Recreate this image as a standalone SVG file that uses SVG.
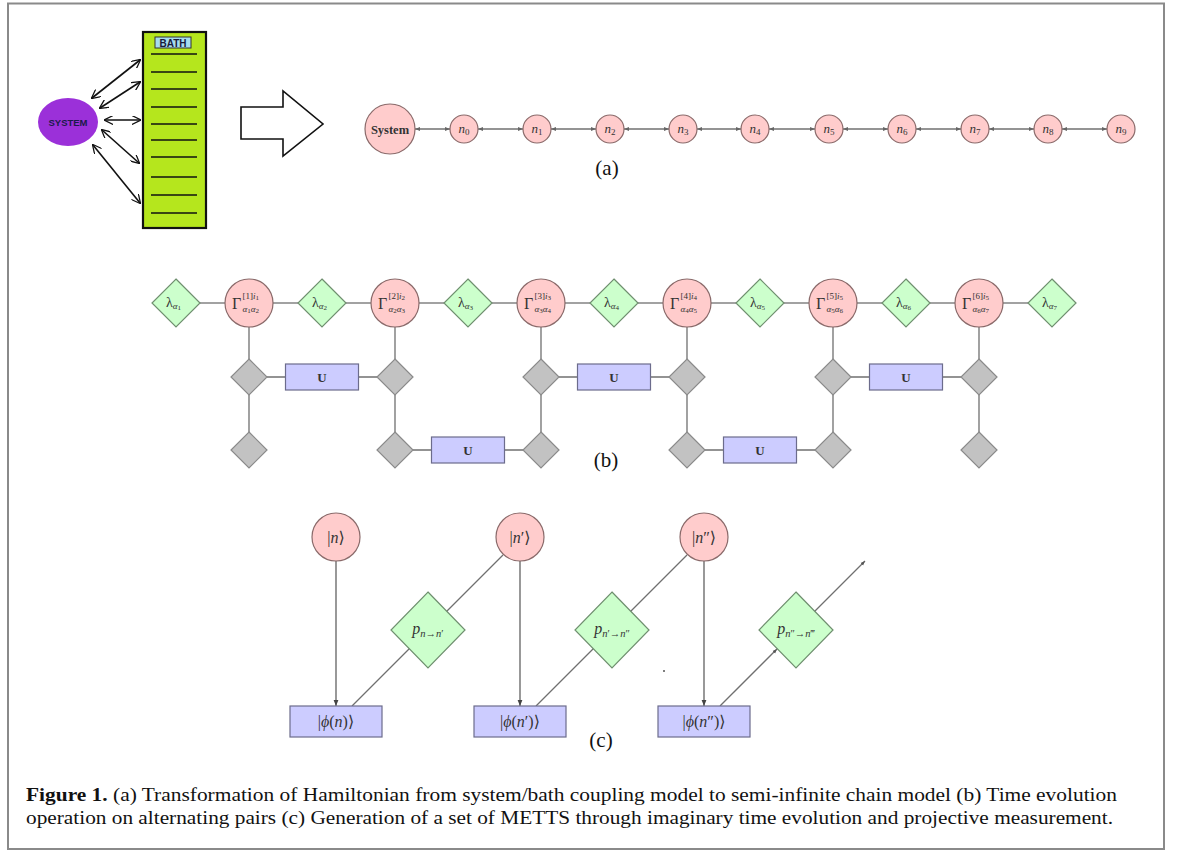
<svg xmlns="http://www.w3.org/2000/svg" width="1181" height="850" viewBox="0 0 1181 850">
<style>
.frame{fill:#fff;stroke:#8a8a8a;stroke-width:2}
.blk{stroke:#111;stroke-width:1.6;fill:none}
.edge{stroke:#707070;stroke-width:1.3;fill:none}
.edgeD{stroke:#444;stroke-width:1.1;fill:none}
.pink{fill:#ffcccc;stroke:#8a6a6a;stroke-width:1.2}
.green{fill:#ccffcc;stroke:#6f8f6f;stroke-width:1.2}
.gray{fill:#c2c2c2;stroke:#8a8a8a;stroke-width:1.2}
.blue{fill:#ccccff;stroke:#6c6c8c;stroke-width:1.2}
.m{font-family:"Liberation Serif","DejaVu Serif",serif;fill:#333}
.i{font-style:italic}
.lbl{font-family:"Liberation Serif",serif;fill:#111;font-size:21px}
.cap{font-family:"Liberation Serif",serif;fill:#111;font-size:18.5px}
</style>
<defs>
<marker id="va" viewBox="0 0 10 10" refX="9" refY="5" markerWidth="9" markerHeight="9" markerUnits="userSpaceOnUse" orient="auto-start-reverse"><path d="M0,0 L10,5 L0,10" fill="none" stroke="#111" stroke-width="1.4"/></marker>
<marker id="sm" viewBox="0 0 10 10" refX="10" refY="5" markerWidth="5" markerHeight="5" markerUnits="userSpaceOnUse" orient="auto-start-reverse"><path d="M0,1 L10,5 L0,9 z" fill="#666"/></marker>
<marker id="ar" viewBox="0 0 10 10" refX="10" refY="5" markerWidth="6" markerHeight="6" markerUnits="userSpaceOnUse" orient="auto"><path d="M0,1 L10,5 L0,9 z" fill="#444"/></marker>
<marker id="ars" viewBox="0 0 10 10" refX="10" refY="5" markerWidth="4.5" markerHeight="4.5" markerUnits="userSpaceOnUse" orient="auto"><path d="M0,1 L10,5 L0,9 z" fill="#555"/></marker>
</defs>
<rect class="frame" x="8" y="3.5" width="1156" height="845.5"/>

<!-- (a) left: system / bath -->
<g id="bath">
<rect x="143" y="32" width="63" height="196" fill="#b5e61d" stroke="#111" stroke-width="2.2"/>
<rect x="155" y="37" width="36" height="11" fill="#a6dcef" stroke="#333" stroke-width="1"/>
<text x="173" y="46.5" text-anchor="middle" font-family="Liberation Sans,sans-serif" font-weight="bold" font-size="10" fill="#1a1a3a">BATH</text>
<g stroke="#111" stroke-width="1.5">
<line x1="151" y1="54" x2="197" y2="54"/><line x1="151" y1="72" x2="197" y2="72"/>
<line x1="151" y1="89" x2="197" y2="89"/><line x1="151" y1="107" x2="197" y2="107"/>
<line x1="151" y1="124" x2="197" y2="124"/><line x1="151" y1="140" x2="197" y2="140"/>
<line x1="151" y1="157" x2="197" y2="157"/><line x1="151" y1="177" x2="197" y2="177"/>
<line x1="151" y1="195" x2="197" y2="195"/><line x1="151" y1="213" x2="197" y2="213"/>
</g>
</g>
<g id="system">
<ellipse cx="68" cy="122" rx="30" ry="24" fill="#9b30d9"/>
<text x="68" y="125.5" text-anchor="middle" font-family="Liberation Sans,sans-serif" font-weight="bold" font-size="9.5" fill="#1a1a4a">SYSTEM</text>
</g>
<g id="coupling">
<line class="blk" x1="92" y1="98" x2="140" y2="60" marker-start="url(#va)" marker-end="url(#va)"/>
<line class="blk" x1="100" y1="108" x2="140" y2="82" marker-start="url(#va)" marker-end="url(#va)"/>
<line class="blk" x1="105" y1="120" x2="140" y2="120" marker-start="url(#va)" marker-end="url(#va)"/>
<line class="blk" x1="102" y1="130" x2="139" y2="163" marker-start="url(#va)" marker-end="url(#va)"/>
<line class="blk" x1="93" y1="145" x2="140" y2="203" marker-start="url(#va)" marker-end="url(#va)"/>
</g>
<g id="bigarrow">
<polygon points="241,107 283,107 283,91 323,124 283,156 283,139 241,139" fill="#fff" stroke="#111" stroke-width="1.6"/>
</g>

<!-- (a) chain -->
<g id="chain-edges">
<line class="edge" x1="415" y1="129" x2="450" y2="129" marker-start="url(#sm)" marker-end="url(#sm)"/>
<line class="edge" x1="478" y1="129" x2="523" y2="129" marker-start="url(#sm)" marker-end="url(#sm)"/>
<line class="edge" x1="551" y1="129" x2="596" y2="129" marker-start="url(#sm)" marker-end="url(#sm)"/>
<line class="edge" x1="624" y1="129" x2="669" y2="129" marker-start="url(#sm)" marker-end="url(#sm)"/>
<line class="edge" x1="697" y1="129" x2="741" y2="129" marker-start="url(#sm)" marker-end="url(#sm)"/>
<line class="edge" x1="769" y1="129" x2="815" y2="129" marker-start="url(#sm)" marker-end="url(#sm)"/>
<line class="edge" x1="843" y1="129" x2="888" y2="129" marker-start="url(#sm)" marker-end="url(#sm)"/>
<line class="edge" x1="916" y1="129" x2="961" y2="129" marker-start="url(#sm)" marker-end="url(#sm)"/>
<line class="edge" x1="989" y1="129" x2="1034" y2="129" marker-start="url(#sm)" marker-end="url(#sm)"/>
<line class="edge" x1="1062" y1="129" x2="1107" y2="129" marker-start="url(#sm)" marker-end="url(#sm)"/>
</g>
<g id="chain-System"><circle class="pink" cx="390" cy="129" r="25"/><text class="m" x="390" y="133.5" text-anchor="middle" font-size="12.5" font-weight="bold" fill="#333">System</text></g>
<g id="chain-n0"><circle class="pink" cx="464" cy="129" r="14"/><text class="m" x="464" y="133" text-anchor="middle" font-size="13"><tspan class="i">n</tspan><tspan font-size="9" dy="2">0</tspan></text></g>
<g id="chain-n1"><circle class="pink" cx="537" cy="129" r="14"/><text class="m" x="537" y="133" text-anchor="middle" font-size="13"><tspan class="i">n</tspan><tspan font-size="9" dy="2">1</tspan></text></g>
<g id="chain-n2"><circle class="pink" cx="610" cy="129" r="14"/><text class="m" x="610" y="133" text-anchor="middle" font-size="13"><tspan class="i">n</tspan><tspan font-size="9" dy="2">2</tspan></text></g>
<g id="chain-n3"><circle class="pink" cx="683" cy="129" r="14"/><text class="m" x="683" y="133" text-anchor="middle" font-size="13"><tspan class="i">n</tspan><tspan font-size="9" dy="2">3</tspan></text></g>
<g id="chain-n4"><circle class="pink" cx="755" cy="129" r="14"/><text class="m" x="755" y="133" text-anchor="middle" font-size="13"><tspan class="i">n</tspan><tspan font-size="9" dy="2">4</tspan></text></g>
<g id="chain-n5"><circle class="pink" cx="829" cy="129" r="14"/><text class="m" x="829" y="133" text-anchor="middle" font-size="13"><tspan class="i">n</tspan><tspan font-size="9" dy="2">5</tspan></text></g>
<g id="chain-n6"><circle class="pink" cx="902" cy="129" r="14"/><text class="m" x="902" y="133" text-anchor="middle" font-size="13"><tspan class="i">n</tspan><tspan font-size="9" dy="2">6</tspan></text></g>
<g id="chain-n7"><circle class="pink" cx="975" cy="129" r="14"/><text class="m" x="975" y="133" text-anchor="middle" font-size="13"><tspan class="i">n</tspan><tspan font-size="9" dy="2">7</tspan></text></g>
<g id="chain-n8"><circle class="pink" cx="1048" cy="129" r="14"/><text class="m" x="1048" y="133" text-anchor="middle" font-size="13"><tspan class="i">n</tspan><tspan font-size="9" dy="2">8</tspan></text></g>
<g id="chain-n9"><circle class="pink" cx="1121" cy="129" r="14"/><text class="m" x="1121" y="133" text-anchor="middle" font-size="13"><tspan class="i">n</tspan><tspan font-size="9" dy="2">9</tspan></text></g>
<text class="lbl" x="607" y="175" text-anchor="middle">(a)</text>

<!-- (b) -->
<g id="b-edges">
<line class="edge" x1="200" y1="303" x2="225" y2="303"/>
<line class="edge" x1="273" y1="303" x2="298" y2="303"/>
<line class="edge" x1="346" y1="303" x2="371" y2="303"/>
<line class="edge" x1="419" y1="303" x2="444" y2="303"/>
<line class="edge" x1="492" y1="303" x2="517" y2="303"/>
<line class="edge" x1="565" y1="303" x2="590" y2="303"/>
<line class="edge" x1="638" y1="303" x2="663" y2="303"/>
<line class="edge" x1="711" y1="303" x2="736" y2="303"/>
<line class="edge" x1="784" y1="303" x2="809" y2="303"/>
<line class="edge" x1="857" y1="303" x2="882" y2="303"/>
<line class="edge" x1="930" y1="303" x2="955" y2="303"/>
<line class="edge" x1="1003" y1="303" x2="1028" y2="303"/>
<path class="edge" d="M249,327V359M249,395V432M395,327V359M395,395V432M541,327V359M541,395V432M687,327V359M687,395V432M833,327V359M833,395V432M979,327V359M979,395V432"/>
<path class="edge" d="M267,377H285.5M358.5,377H377M559,377H577.5M650.5,377H669M851,377H869.5M942.5,377H961"/>
<path class="edge" d="M413,450H431.5M504.5,450H523M705,450H723.5M796.5,450H815"/>
</g>
<g id="lambda1"><polygon class="green" points="176,279 200,303 176,327 152,303"/><text class="m" x="166" y="307" font-size="14">λ<tspan font-size="9" dy="2" class="i">α</tspan><tspan font-size="7" dy="1">1</tspan></text></g>
<g id="lambda2"><polygon class="green" points="322,279 346,303 322,327 298,303"/><text class="m" x="312" y="307" font-size="14">λ<tspan font-size="9" dy="2" class="i">α</tspan><tspan font-size="7" dy="1">2</tspan></text></g>
<g id="lambda3"><polygon class="green" points="468,279 492,303 468,327 444,303"/><text class="m" x="458" y="307" font-size="14">λ<tspan font-size="9" dy="2" class="i">α</tspan><tspan font-size="7" dy="1">3</tspan></text></g>
<g id="lambda4"><polygon class="green" points="614,279 638,303 614,327 590,303"/><text class="m" x="604" y="307" font-size="14">λ<tspan font-size="9" dy="2" class="i">α</tspan><tspan font-size="7" dy="1">4</tspan></text></g>
<g id="lambda5"><polygon class="green" points="760,279 784,303 760,327 736,303"/><text class="m" x="750" y="307" font-size="14">λ<tspan font-size="9" dy="2" class="i">α</tspan><tspan font-size="7" dy="1">5</tspan></text></g>
<g id="lambda6"><polygon class="green" points="906,279 930,303 906,327 882,303"/><text class="m" x="896" y="307" font-size="14">λ<tspan font-size="9" dy="2" class="i">α</tspan><tspan font-size="7" dy="1">6</tspan></text></g>
<g id="lambda7"><polygon class="green" points="1052,279 1076,303 1052,327 1028,303"/><text class="m" x="1042" y="307" font-size="14">λ<tspan font-size="9" dy="2" class="i">α</tspan><tspan font-size="7" dy="1">7</tspan></text></g>

<g id="gamma1"><circle class="pink" cx="249" cy="303" r="24"/><text class="m" x="232" y="309" font-size="16">Γ</text><text class="m" x="242.5" y="299" font-size="9">[1]<tspan class="i">i</tspan><tspan font-size="7" dy="1">1</tspan></text><text class="m i" x="242.5" y="312" font-size="9">α<tspan font-size="7" dy="1" font-style="normal">1</tspan><tspan dy="-1">α</tspan><tspan font-size="7" dy="1" font-style="normal">2</tspan></text></g>
<g id="gamma2"><circle class="pink" cx="395" cy="303" r="24"/><text class="m" x="378" y="309" font-size="16">Γ</text><text class="m" x="388.5" y="299" font-size="9">[2]<tspan class="i">i</tspan><tspan font-size="7" dy="1">2</tspan></text><text class="m i" x="388.5" y="312" font-size="9">α<tspan font-size="7" dy="1" font-style="normal">2</tspan><tspan dy="-1">α</tspan><tspan font-size="7" dy="1" font-style="normal">3</tspan></text></g>
<g id="gamma3"><circle class="pink" cx="541" cy="303" r="24"/><text class="m" x="524" y="309" font-size="16">Γ</text><text class="m" x="534.5" y="299" font-size="9">[3]<tspan class="i">i</tspan><tspan font-size="7" dy="1">3</tspan></text><text class="m i" x="534.5" y="312" font-size="9">α<tspan font-size="7" dy="1" font-style="normal">3</tspan><tspan dy="-1">α</tspan><tspan font-size="7" dy="1" font-style="normal">4</tspan></text></g>
<g id="gamma4"><circle class="pink" cx="687" cy="303" r="24"/><text class="m" x="670" y="309" font-size="16">Γ</text><text class="m" x="680.5" y="299" font-size="9">[4]<tspan class="i">i</tspan><tspan font-size="7" dy="1">4</tspan></text><text class="m i" x="680.5" y="312" font-size="9">α<tspan font-size="7" dy="1" font-style="normal">4</tspan><tspan dy="-1">α</tspan><tspan font-size="7" dy="1" font-style="normal">5</tspan></text></g>
<g id="gamma5"><circle class="pink" cx="833" cy="303" r="24"/><text class="m" x="816" y="309" font-size="16">Γ</text><text class="m" x="826.5" y="299" font-size="9">[5]<tspan class="i">i</tspan><tspan font-size="7" dy="1">5</tspan></text><text class="m i" x="826.5" y="312" font-size="9">α<tspan font-size="7" dy="1" font-style="normal">5</tspan><tspan dy="-1">α</tspan><tspan font-size="7" dy="1" font-style="normal">6</tspan></text></g>
<g id="gamma6"><circle class="pink" cx="979" cy="303" r="24"/><text class="m" x="962" y="309" font-size="16">Γ</text><text class="m" x="972.5" y="299" font-size="9">[6]<tspan class="i">i</tspan><tspan font-size="7" dy="1">5</tspan></text><text class="m i" x="972.5" y="312" font-size="9">α<tspan font-size="7" dy="1" font-style="normal">6</tspan><tspan dy="-1">α</tspan><tspan font-size="7" dy="1" font-style="normal">7</tspan></text></g>

<g id="gates-row1">
<polygon class="gray" points="249,359 267,377 249,395 231,377"/>
<polygon class="gray" points="395,359 413,377 395,395 377,377"/>
<polygon class="gray" points="541,359 559,377 541,395 523,377"/>
<polygon class="gray" points="687,359 705,377 687,395 669,377"/>
<polygon class="gray" points="833,359 851,377 833,395 815,377"/>
<polygon class="gray" points="979,359 997,377 979,395 961,377"/>
</g>
<g id="gates-row2">
<polygon class="gray" points="249,432 267,450 249,468 231,450"/>
<polygon class="gray" points="395,432 413,450 395,468 377,450"/>
<polygon class="gray" points="541,432 559,450 541,468 523,450"/>
<polygon class="gray" points="687,432 705,450 687,468 669,450"/>
<polygon class="gray" points="833,432 851,450 833,468 815,450"/>
<polygon class="gray" points="979,432 997,450 979,468 961,450"/>
</g>
<g id="U1"><rect class="blue" x="285.5" y="364" width="73" height="26"/><text class="m" x="322" y="382" text-anchor="middle" font-size="13" font-weight="bold">U</text></g>
<g id="U2"><rect class="blue" x="577.5" y="364" width="73" height="26"/><text class="m" x="614" y="382" text-anchor="middle" font-size="13" font-weight="bold">U</text></g>
<g id="U3"><rect class="blue" x="869.5" y="364" width="73" height="26"/><text class="m" x="906" y="382" text-anchor="middle" font-size="13" font-weight="bold">U</text></g>
<g id="U4"><rect class="blue" x="431.5" y="437" width="73" height="26"/><text class="m" x="468" y="455" text-anchor="middle" font-size="13" font-weight="bold">U</text></g>
<g id="U5"><rect class="blue" x="723.5" y="437" width="73" height="26"/><text class="m" x="760" y="455" text-anchor="middle" font-size="13" font-weight="bold">U</text></g>
<text class="lbl" x="606" y="467" text-anchor="middle">(b)</text>

<!-- (c) -->
<g id="c-edges">
<line class="edgeD" x1="336" y1="561" x2="336" y2="706" marker-end="url(#ar)"/>
<line class="edgeD" x1="520" y1="561" x2="520" y2="706" marker-end="url(#ar)"/>
<line class="edgeD" x1="704" y1="561" x2="704" y2="706" marker-end="url(#ar)"/>
<line class="edge" x1="352" y1="706" x2="503" y2="555"/>
<line class="edge" x1="536" y1="706" x2="687" y2="555"/>
<line class="edge" x1="720" y1="706" x2="777" y2="649" marker-end="url(#ars)"/>
<line class="edge" x1="777" y1="649" x2="865" y2="561" marker-end="url(#ars)"/>
</g>
<g id="ket-n"><circle class="pink" cx="336" cy="537" r="24"/><text class="m" x="336" y="542.5" text-anchor="middle" font-size="16">|<tspan class="i">n</tspan>⟩</text></g>
<g id="ket-n1"><circle class="pink" cx="520" cy="537" r="24"/><text class="m" x="520" y="542.5" text-anchor="middle" font-size="16">|<tspan class="i">n</tspan>′⟩</text></g>
<g id="ket-n2"><circle class="pink" cx="704" cy="537" r="24"/><text class="m" x="704" y="542.5" text-anchor="middle" font-size="16">|<tspan class="i">n</tspan>″⟩</text></g>
<g id="p1"><polygon class="green" points="428,592 465,630 428,668 391,630"/><text class="m" x="428" y="634" text-anchor="middle" font-size="16"><tspan class="i">p</tspan><tspan font-size="10.5" dy="3"><tspan class="i">n</tspan>→<tspan class="i">n</tspan>′</tspan></text></g>
<g id="p2"><polygon class="green" points="612,592 649,630 612,668 575,630"/><text class="m" x="612" y="634" text-anchor="middle" font-size="16"><tspan class="i">p</tspan><tspan font-size="10.5" dy="3"><tspan class="i">n</tspan>′→<tspan class="i">n</tspan>″</tspan></text></g>
<g id="p3"><polygon class="green" points="796,592 833,630 796,668 759,630"/><text class="m" x="796" y="634" text-anchor="middle" font-size="16"><tspan class="i">p</tspan><tspan font-size="10.5" dy="3"><tspan class="i">n</tspan>″→<tspan class="i">n</tspan>‴</tspan></text></g>
<g id="phi-n"><rect class="blue" x="290" y="706" width="92" height="31"/><text class="m" x="336" y="727" text-anchor="middle" font-size="16">|<tspan class="i">ϕ</tspan>(<tspan class="i">n</tspan>)⟩</text></g>
<g id="phi-n1"><rect class="blue" x="474" y="706" width="92" height="31"/><text class="m" x="520" y="727" text-anchor="middle" font-size="16">|<tspan class="i">ϕ</tspan>(<tspan class="i">n</tspan>′)⟩</text></g>
<g id="phi-n2"><rect class="blue" x="658" y="706" width="92" height="31"/><text class="m" x="704" y="727" text-anchor="middle" font-size="16">|<tspan class="i">ϕ</tspan>(<tspan class="i">n</tspan>″)⟩</text></g>
<circle cx="664" cy="671" r="1" fill="#555"/>
<text class="lbl" x="601" y="747" text-anchor="middle">(c)</text>

<!-- caption -->
<text class="cap" x="26" y="801" textLength="1091" lengthAdjust="spacingAndGlyphs"><tspan font-weight="bold">Figure 1.</tspan> (a) Transformation of Hamiltonian from system/bath coupling model to semi-infinite chain model (b) Time evolution</text>
<text class="cap" x="26" y="824" textLength="1087" lengthAdjust="spacingAndGlyphs">operation on alternating pairs (c) Generation of a set of METTS through imaginary time evolution and projective measurement.</text>
</svg>
